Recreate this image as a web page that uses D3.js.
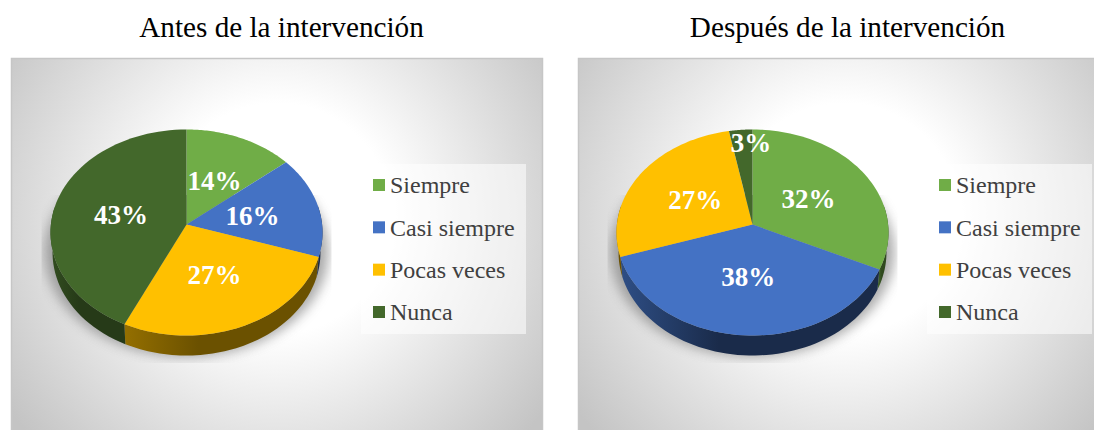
<!DOCTYPE html>
<html><head><meta charset="utf-8">
<script src="https://cdn.jsdelivr.net/npm/d3@7/dist/d3.min.js"></script>
<style>html,body{margin:0;padding:0;background:#fff}svg{display:block}text{font-family:"Liberation Serif","Times New Roman",serif}</style>
</head><body><svg id="c" width="1094" height="430"></svg>
<script>
const categories = ["Siempre","Casi siempre","Pocas veces","Nunca"];
const antes = [14,16,27,43];
const despues = [32,38,27,3];
const titles = ["Antes de la intervención","Después de la intervención"];
const colors = ["#70ad47","#4472c4","#ffc000","#43682b"];
const wallStart = [0.62,0.68,0.58,0.74];
const wallEnd = [0.42,0.38,0.42,0.56];
const labelRadiusAntes = [0.5,0.5,0.5,0.5];
const labelRadiusDespues = [0.5,0.48,0.5,0.87];
const labelNudgeAntes = [0,0,0,0];
const labelNudgeDespues = [0,0,0,9];

const svg = d3.select("#c");
const defs = svg.append("defs");
const color = d3.scaleOrdinal(categories, colors);

// tilted-disc projection of a pie angle (0 = up, clockwise), with perspective
const k = 0.0776, R = 135.6, A = 102.4, depth = 20, shrink = 0.985;
const proj = (th, r = 1) => {
  const X = Math.sin(th) * r, Z = Math.cos(th) * r, d = 1 + k * Z;
  return [R * X / d, -A * Z / d];
};
const line = d3.line();
const blur = defs.append("filter").attr("id","blur").attr("x","-20%").attr("y","-20%").attr("width","140%").attr("height","140%");
blur.append("feGaussianBlur").attr("stdDeviation",6);

function panel(idx, p) {
  const g = svg.append("g");
  const id = "p" + idx;
  const bg = defs.append("radialGradient").attr("id", id + "bg")
    .attr("gradientUnits","userSpaceOnUse").attr("cx",p.x + p.w/2).attr("cy",p.y + p.h/2 - 30).attr("r",p.w*0.62);
  bg.append("stop").attr("offset","0.35").attr("stop-color","#ffffff");
  bg.append("stop").attr("offset","1").attr("stop-color","#c4c4c4");
  g.append("rect").attr("x",p.x).attr("y",p.y).attr("width",p.w).attr("height",p.h)
    .attr("fill",`url(#${id}bg)`).attr("stroke","#c6c6c6").attr("stroke-width",1.5);
  g.append("text").attr("x",p.titleX).attr("y",37).attr("text-anchor","middle")
    .attr("font-size",29.2).attr("fill","#000").text(titles[idx]);

  const cx = p.cx, cy = 224.5;
  // shadow
  const clip = defs.append("clipPath").attr("id", id + "clip");
  clip.append("rect").attr("x",cx-145).attr("y",195).attr("width",290).attr("height",168);
  g.append("g").attr("clip-path",`url(#${id}clip)`)
    .append("ellipse").attr("cx",cx).attr("cy",252).attr("rx",142).attr("ry",105)
    .attr("fill","#777").attr("opacity",0.62).attr("filter","url(#blur)");

  const arcs = d3.pie().sort(null).value(d => d)(p.values);
  const samples = a => d3.range(0, 61).map(i => a.startAngle + (a.endAngle - a.startAngle) * i / 60);
  // walls
  const wall = g.append("g").attr("transform",`translate(${cx},${cy})`);
  arcs.forEach((a, i) => {
    const c = d3.rgb(color(categories[i]));
    const mul = f => d3.rgb(c.r*f, c.g*f, c.b*f).formatHex();
    const gr = defs.append("linearGradient").attr("id",`${id}w${i}`);
    gr.append("stop").attr("offset","0").attr("stop-color",mul(wallStart[i]));
    gr.append("stop").attr("offset","0.38").attr("stop-color",mul(wallEnd[i]));
    gr.append("stop").attr("offset","1").attr("stop-color",mul(wallEnd[i]));
    const th = samples(a).filter(t => Math.cos(t) < 0.2);
    if (th.length < 2) return;
    const top = th.map(t => proj(t));
    const bot = th.map(t => { const q = proj(t); return [q[0]*shrink, q[1] + depth]; }).reverse();
    wall.append("path").attr("d", line(top.concat(bot)) + "Z").attr("fill",`url(#${id}w${i})`);
  });
  // top faces
  const face = g.append("g").attr("transform",`translate(${cx},${cy})`);
  face.selectAll("path").data(arcs).join("path")
    .attr("d", a => line([[0,0]].concat(samples(a).map(t => proj(t)))) + "Z")
    .attr("fill", (a,i) => color(categories[i]));
  face.selectAll("text").data(arcs).join("text")
    .attr("x", (a,i) => proj((a.startAngle+a.endAngle)/2, p.radii[i])[0] + p.nudge[i])
    .attr("y", (a,i) => proj((a.startAngle+a.endAngle)/2, p.radii[i])[1] + 1)
    .attr("dy","0.35em").attr("text-anchor","middle").attr("font-size",27).attr("font-weight","bold")
    .attr("fill","#fff").text(a => a.value + "%");

  // legend
  const lg = g.append("g").attr("transform",`translate(${p.legendX},164)`);
  lg.append("rect").attr("width",165).attr("height",170).attr("fill","#fff").attr("opacity",0.55);
  const y = d3.scalePoint().domain(categories).range([21,148]);
  const items = lg.selectAll("g").data(categories).join("g").attr("transform",d=>`translate(0,${y(d)})`);
  items.append("rect").attr("x",12).attr("y",-6).attr("width",12).attr("height",12).attr("fill",d=>color(d));
  items.append("text").attr("x",29).attr("dy","0.34em").attr("font-size",24).attr("fill","#404040").text(d=>d);
}
panel(0,{x:11.5,y:58.5,w:531,h:380,cx:186.5,titleX:281.5,values:antes,radii:labelRadiusAntes,nudge:labelNudgeAntes,legendX:361});
panel(1,{x:578.5,y:58.5,w:531,h:380,cx:752.5,titleX:847.5,values:despues,radii:labelRadiusDespues,nudge:labelNudgeDespues,legendX:927});
</script></body></html>
